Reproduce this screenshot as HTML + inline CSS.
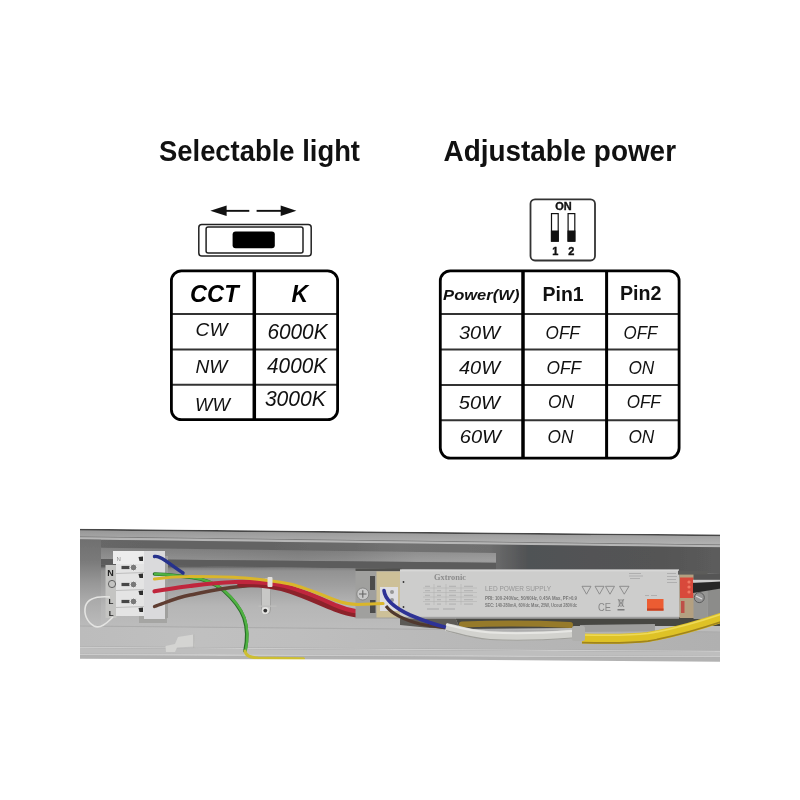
<!DOCTYPE html>
<html><head><meta charset="utf-8">
<style>
html,body{margin:0;padding:0;background:#fff;width:800px;height:800px;overflow:hidden}
svg{display:block;will-change:transform}
text{font-family:"Liberation Sans",sans-serif}
</style></head><body>
<svg width="800" height="800" viewBox="0 0 800 800">
<rect width="800" height="800" fill="#fff"/>
<!-- titles -->
<text x="159" y="161" font-size="28.8" font-weight="bold" fill="#111" textLength="201" lengthAdjust="spacingAndGlyphs">Selectable light</text>
<text x="443.5" y="160.8" font-size="28.6" font-weight="bold" fill="#111" textLength="232.5" lengthAdjust="spacingAndGlyphs">Adjustable power</text>

<!-- selector switch icon -->
<g fill="#111" stroke="none">
<polygon points="210.3,210.8 226.6,205.6 226.6,216.1"/>
<rect x="226" y="209.9" width="23.3" height="1.9"/>
<polygon points="296.4,210.8 280.7,205.6 280.7,216.1"/>
<rect x="256.6" y="209.9" width="24.5" height="1.9"/>
</g>
<rect x="198.8" y="224.6" width="112.4" height="31.4" rx="3" fill="none" stroke="#222" stroke-width="1.5"/>
<rect x="206.1" y="227.1" width="96.9" height="26" rx="2" fill="none" stroke="#222" stroke-width="1.5"/>
<rect x="232.6" y="231.6" width="42.2" height="16.7" rx="3" fill="#000"/>

<!-- DIP switch icon -->
<rect x="530.5" y="199.3" width="64.5" height="61.2" rx="4.5" fill="none" stroke="#333" stroke-width="1.8"/>
<text x="563.4" y="209.7" font-size="10.5" font-weight="bold" text-anchor="middle" fill="#111" stroke="#111" stroke-width="0.35" textLength="16.5" lengthAdjust="spacingAndGlyphs">ON</text>
<rect x="551.5" y="213.6" width="6.7" height="27.5" fill="#fff" stroke="#111" stroke-width="1.2"/>
<rect x="550.9" y="230.5" width="7.9" height="11.2" fill="#111"/>
<rect x="568.1" y="213.6" width="6.7" height="27.5" fill="#fff" stroke="#111" stroke-width="1.2"/>
<rect x="567.5" y="230.5" width="7.9" height="11.2" fill="#111"/>
<text x="555.3" y="255.2" font-size="11" font-weight="bold" text-anchor="middle" fill="#111" stroke="#111" stroke-width="0.4">1</text>
<text x="571.4" y="255.2" font-size="11" font-weight="bold" text-anchor="middle" fill="#111" stroke="#111" stroke-width="0.4">2</text>

<!-- left table -->
<g stroke="#333" stroke-width="2">
<line x1="171" y1="313.9" x2="338" y2="313.9"/>
<line x1="171" y1="349.4" x2="338" y2="349.4"/>
<line x1="171" y1="384.8" x2="338" y2="384.8"/>
</g>
<line x1="254.3" y1="271" x2="254.3" y2="419" stroke="#000" stroke-width="3.5"/>
<rect x="171.4" y="270.8" width="166.2" height="148.9" rx="10" fill="none" stroke="#000" stroke-width="2.8"/>
<g fill="#000">
<text x="190" y="301.6" font-size="23" font-weight="bold" font-style="italic" textLength="48.6" lengthAdjust="spacingAndGlyphs">CCT</text>
<text x="291.5" y="301.6" font-size="23" font-weight="bold" font-style="italic">K</text>
</g>
<g fill="#111" font-style="italic">
<text x="195.6" y="335.6" font-size="19" textLength="31.8" lengthAdjust="spacingAndGlyphs">CW</text>
<text x="195.6" y="373" font-size="18.5" textLength="31.8" lengthAdjust="spacingAndGlyphs">NW</text>
<text x="195.1" y="411.4" font-size="18.5" textLength="34.9" lengthAdjust="spacingAndGlyphs">WW</text>
<text x="267.4" y="339" font-size="21.5" textLength="60.2" lengthAdjust="spacingAndGlyphs">6000K</text>
<text x="267.1" y="373" font-size="21.3" textLength="59.9" lengthAdjust="spacingAndGlyphs">4000K</text>
<text x="264.9" y="406.1" font-size="21.5" textLength="61" lengthAdjust="spacingAndGlyphs">3000K</text>
</g>

<!-- right table -->
<g stroke="#333" stroke-width="2">
<line x1="440" y1="314" x2="679" y2="314"/>
<line x1="440" y1="349.4" x2="679" y2="349.4"/>
<line x1="440" y1="385" x2="679" y2="385"/>
<line x1="440" y1="420.3" x2="679" y2="420.3"/>
</g>
<line x1="523" y1="271" x2="523" y2="458" stroke="#000" stroke-width="3.5"/>
<line x1="606.6" y1="271" x2="606.6" y2="458" stroke="#000" stroke-width="3"/>
<rect x="440.3" y="270.9" width="238.8" height="187.2" rx="10" fill="none" stroke="#000" stroke-width="2.8"/>
<g fill="#111">
<text x="443.1" y="299.8" font-size="15.5" font-weight="bold" font-style="italic" textLength="76.3" lengthAdjust="spacingAndGlyphs">Power(W)</text>
<text x="542.5" y="300.6" font-size="21" font-weight="bold" textLength="41.2" lengthAdjust="spacingAndGlyphs">Pin1</text>
<text x="620" y="300.3" font-size="21" font-weight="bold" textLength="41.5" lengthAdjust="spacingAndGlyphs">Pin2</text>
</g>
<g fill="#111" font-style="italic" font-size="18.3">
<text x="459" y="339.4" textLength="41" lengthAdjust="spacingAndGlyphs">30W</text>
<text x="459" y="374" textLength="41" lengthAdjust="spacingAndGlyphs">40W</text>
<text x="458.8" y="408.5" textLength="41.2" lengthAdjust="spacingAndGlyphs">50W</text>
<text x="459.8" y="442.7" textLength="41.2" lengthAdjust="spacingAndGlyphs">60W</text>
<text x="545.6" y="339.4" textLength="34.2" lengthAdjust="spacingAndGlyphs">OFF</text>
<text x="623.5" y="339.4" textLength="33.8" lengthAdjust="spacingAndGlyphs">OFF</text>
<text x="546.6" y="374" textLength="34.6" lengthAdjust="spacingAndGlyphs">OFF</text>
<text x="628.4" y="374" textLength="25.9" lengthAdjust="spacingAndGlyphs">ON</text>
<text x="548" y="408.4" textLength="26.2" lengthAdjust="spacingAndGlyphs">ON</text>
<text x="626.7" y="408.4" textLength="34" lengthAdjust="spacingAndGlyphs">OFF</text>
<text x="547.6" y="443" textLength="25.9" lengthAdjust="spacingAndGlyphs">ON</text>
<text x="628.4" y="443" textLength="25.9" lengthAdjust="spacingAndGlyphs">ON</text>
</g>

<!-- PHOTO -->
<g id="photo">
<defs><linearGradient id="rimg" x1="0" y1="0" x2="0" y2="1"><stop offset="0" stop-color="rgb(152,152,152)"/><stop offset="0.5" stop-color="rgb(165,165,165)"/><stop offset="1" stop-color="rgb(178,178,178)"/></linearGradient><linearGradient id="dbg" gradientUnits="userSpaceOnUse" x1="80" y1="0" x2="720" y2="0"><stop offset="0" stop-color="rgb(104,104,104)"/><stop offset="0.1" stop-color="rgb(100,100,100)"/><stop offset="0.3" stop-color="rgb(100,100,100)"/><stop offset="0.42" stop-color="rgb(106,106,106)"/><stop offset="0.5" stop-color="rgb(114,114,114)"/><stop offset="0.64" stop-color="rgb(110,110,110)"/><stop offset="0.7" stop-color="rgb(80,82,84)"/><stop offset="0.9" stop-color="rgb(84,84,84)"/><stop offset="1" stop-color="rgb(92,92,92)"/></linearGradient><linearGradient id="ldg" gradientUnits="userSpaceOnUse" x1="101" y1="0" x2="496" y2="0"><stop offset="0" stop-color="rgb(148,148,148)"/><stop offset="0.3" stop-color="rgb(142,142,142)"/><stop offset="0.5" stop-color="rgb(136,136,136)"/><stop offset="0.62" stop-color="rgb(140,140,140)"/><stop offset="0.8" stop-color="rgb(155,155,155)"/><stop offset="1" stop-color="rgb(158,158,158)"/></linearGradient><linearGradient id="ldv" x1="0" y1="0" x2="0" y2="1"><stop offset="0" stop-color="rgba(0,0,0,0.12)"/><stop offset="0.85" stop-color="rgba(0,0,0,0)"/><stop offset="1" stop-color="rgba(255,255,255,0.08)"/></linearGradient><linearGradient id="chg" gradientUnits="userSpaceOnUse" x1="0" y1="566" x2="0" y2="628"><stop offset="0" stop-color="rgb(88,88,88)"/><stop offset="0.04" stop-color="rgb(130,130,130)"/><stop offset="0.08" stop-color="rgb(146,146,146)"/><stop offset="0.32" stop-color="rgb(160,160,160)"/><stop offset="0.65" stop-color="rgb(182,182,182)"/><stop offset="1" stop-color="rgb(188,188,188)"/></linearGradient><linearGradient id="leftg" gradientUnits="userSpaceOnUse" x1="0" y1="540" x2="0" y2="600"><stop offset="0" stop-color="rgb(112,112,112)"/><stop offset="0.35" stop-color="rgb(122,122,122)"/><stop offset="0.7" stop-color="rgb(150,150,150)"/><stop offset="1" stop-color="rgb(170,170,170)"/></linearGradient><linearGradient id="leftg2" gradientUnits="userSpaceOnUse" x1="0" y1="600" x2="0" y2="628"><stop offset="0" stop-color="rgb(170,170,170)"/><stop offset="1" stop-color="rgb(188,188,188)"/></linearGradient><linearGradient id="llg" gradientUnits="userSpaceOnUse" x1="80" y1="0" x2="720" y2="0"><stop offset="0" stop-color="rgb(188,188,188)"/><stop offset="0.19" stop-color="rgb(192,192,192)"/><stop offset="0.34" stop-color="rgb(190,190,190)"/><stop offset="0.69" stop-color="rgb(182,182,182)"/><stop offset="1" stop-color="rgb(176,176,176)"/></linearGradient></defs>
<clipPath id="pc"><polygon points="80,528.8 720,534.6 720,661.8 460,659.8 80,658.7"/></clipPath>
<filter id="soft" x="-2%" y="-10%" width="104%" height="120%"><feGaussianBlur stdDeviation="0.75"/></filter>
<g clip-path="url(#pc)">
<g filter="url(#soft)">
<polygon points="80.0,528.8 720.0,534.6 720.0,662.5 80.0,658.7" fill="rgb(150,150,150)" />
<polygon points="80.0,528.8 720.0,534.6 720.0,536.3 80.0,530.5" fill="rgb(70,70,70)" />
<polygon points="80.0,530.5 720.0,536.3 720.0,544.5 80.0,536.5" fill="url(#rimg)" />
<polygon points="80.0,536.5 720.0,544.5 720.0,545.3 80.0,537.3" fill="rgb(120,120,120)" />
<polygon points="80.0,537.3 720.0,545.3 720.0,547.3 80.0,539.5" fill="rgb(182,182,182)" />
<polygon points="80.0,539.5 720.0,547.3 720.0,573.9 80.0,564.3" fill="url(#dbg)" />
<polygon points="101.0,547.8 496.0,553.0 496.0,562.7 101.0,559.0" fill="url(#ldg)" />
<polygon points="101.0,547.8 496.0,553.0 496.0,562.7 101.0,559.0" fill="url(#ldv)" />
<polygon points="101.0,559.0 496.0,562.7 496.0,570.5 101.0,564.6" fill="rgb(92,92,92)" />
<polygon points="101.0,564.6 720.0,573.9 720.0,632.0 101.0,626.2" fill="url(#chg)" />
<polygon points="80.0,539.5 101.0,539.8 101.0,600.0 80.0,600.0" fill="url(#leftg)" />
<polygon points="80.0,600.0 101.0,600.0 101.0,626.2 80.0,626.0" fill="url(#leftg2)" />
<polygon points="80.0,626.0 720.0,632.0 720.0,651.0 80.0,647.0" fill="url(#llg)" />
<polygon points="80.0,625.4 720.0,631.4 720.0,632.6 80.0,626.6" fill="rgb(172,172,172)" />
<polygon points="80.0,646.2 720.0,650.2 720.0,651.0 80.0,647.0" fill="rgb(170,170,170)" />
<polygon points="80.0,646.8 720.0,650.8 720.0,652.0 80.0,648.0" fill="rgb(204,204,204)" />
<polygon points="80.0,648.0 720.0,652.0 720.0,656.0 80.0,653.5" fill="rgb(190,190,190)" />
<polygon points="80.0,653.5 720.0,656.0 720.0,657.6 80.0,655.5" fill="rgb(203,203,203)" />
<polygon points="80.0,655.5 720.0,657.6 720.0,662.5 80.0,658.7" fill="rgb(178,178,178)" />
<polygon points="165.5,646 175,644 178,637 193.5,634.5 194.5,646.5 177,647.5 175,652 166,652" fill="rgb(212,212,210)"/>
<line x1="193.8" y1="634.5" x2="193.8" y2="648" stroke="rgb(180,180,178)" stroke-width="1"/>
<rect x="139" y="612" width="28" height="11" fill="rgb(165,165,163)"/>
<rect x="160" y="556" width="8" height="62" fill="rgb(160,160,158)"/>
<rect x="105.5" y="565" width="11" height="53" fill="rgb(196,196,194)"/>
<path d="M113,552 L125,551 L129,553 L143,551 L146,551 L146,565 L144,565 L144,616 L116,616 L116,564 L113,564 Z" fill="rgb(228,228,228)"/>
<rect x="144" y="551" width="21" height="68" fill="rgb(218,218,220)"/>
<rect x="113" y="551" width="31" height="13" fill="rgb(236,236,236)"/>
<rect x="121.5" y="565.9" width="8" height="3.2" fill="rgb(70,70,70)"/>
<circle cx="133.5" cy="567.5" r="3.4" fill="rgb(120,120,120)" stroke="rgb(240,240,240)" stroke-width="1"/>
<line x1="116" y1="573.5" x2="144" y2="572.5" stroke="rgb(180,180,180)" stroke-width="0.8"/>
<rect x="121.5" y="582.9" width="8" height="3.2" fill="rgb(70,70,70)"/>
<circle cx="133.5" cy="584.5" r="3.4" fill="rgb(120,120,120)" stroke="rgb(240,240,240)" stroke-width="1"/>
<line x1="116" y1="590.5" x2="144" y2="589.5" stroke="rgb(180,180,180)" stroke-width="0.8"/>
<rect x="121.5" y="599.9" width="8" height="3.2" fill="rgb(70,70,70)"/>
<circle cx="133.5" cy="601.5" r="3.4" fill="rgb(120,120,120)" stroke="rgb(240,240,240)" stroke-width="1"/>
<line x1="116" y1="607.5" x2="144" y2="606.5" stroke="rgb(180,180,180)" stroke-width="0.8"/>
<polygon points="138.5,557 143,556.5 143,561 139.5,561" fill="rgb(45,45,45)"/>
<polygon points="138.5,574 143,573.5 143,578 139.5,578" fill="rgb(45,45,45)"/>
<polygon points="138.5,591 143,590.5 143,595 139.5,595" fill="rgb(45,45,45)"/>
<polygon points="138.5,608 143,607.5 143,612 139.5,612" fill="rgb(45,45,45)"/>
<text x="107.3" y="575.5" font-size="9" font-weight="bold" fill="#222">N</text>
<circle cx="112" cy="584" r="3.6" fill="none" stroke="#555" stroke-width="0.9"/>
<text x="108.5" y="604" font-size="8" font-weight="bold" fill="#222">L</text>
<text x="108.8" y="616" font-size="8" font-weight="bold" fill="#222">L</text>
<text x="116.5" y="561" font-size="6" fill="#888">N</text>
<path d="M110,597 C98,596 88,598 85.5,606 C83.5,614 87,622 94,626 C100,629 106,624 113,617" fill="none" stroke="rgb(228,228,226)" stroke-width="1.6"/>
<path d="M154.5,574 C165,574 178,576 192,577.5 C204,579 214,583 223,590 C232,598 240,607 244,618 C248,630 247,642 245,651" fill="none" stroke="rgb(40,110,40)" stroke-width="3.6" stroke-linecap="round"/>
<path d="M154.5,574 C165,574 178,576 192,577.5 C204,579 214,583 223,590 C232,598 240,607 244,618 C248,630 247,642 245,651" fill="none" stroke="rgb(80,178,66)" stroke-width="2.4" stroke-linecap="round" transform="translate(0.6,0)"/>
<path d="M245,651 C246,656 250,657.5 258,658 L303.5,658.8" fill="none" stroke="rgb(205,190,50)" stroke-width="3" stroke-linecap="round"/>
<path d="M154.5,556.5 C160,555 168,563 183,573" fill="none" stroke="rgb(38,48,140)" stroke-width="3.4" stroke-linecap="round"/>
<rect x="261.5" y="578" width="9" height="36" rx="4" fill="rgb(200,200,198)" stroke="rgb(155,155,153)" stroke-width="0.8"/>
<rect x="258.5" y="605.5" width="18" height="1.3" fill="rgb(190,190,188)"/>
<circle cx="265.3" cy="610.6" r="3.6" fill="rgb(228,228,226)"/>
<circle cx="265.3" cy="610.6" r="1.9" fill="rgb(50,50,50)"/>
<path d="M154.5,606.5 C165,603 175,598 190,595 C205,592 220,588.5 240,586.5 C255,585 265,585 275,586" fill="none" stroke="rgb(95,62,50)" stroke-width="3.4" stroke-linecap="round"/>
<path d="M240,584.5 C260,583.5 275,586 290,591 C305,596 320,603 335,609 C343,612 350,614 358,615" fill="none" stroke="rgb(140,34,44)" stroke-width="5.5" stroke-linecap="round"/>
<path d="M154.5,591.3 C165,589.5 175,588 190,586 C205,584 215,582.5 235,582 C255,581.5 270,582.5 285,586 C300,590 320,598 335,605 C343,608.5 350,610.5 358,611.5" fill="none" stroke="rgb(192,40,60)" stroke-width="4.2" stroke-linecap="round"/>
<rect x="355.5" y="570" width="46" height="48.5" fill="rgb(160,160,158)"/>
<rect x="355.5" y="568.5" width="46" height="2.5" fill="rgb(80,80,78)"/>
<rect x="370" y="576" width="5" height="14" fill="rgb(75,75,75)"/>
<rect x="370" y="600" width="5.5" height="13" fill="rgb(75,75,75)"/>
<circle cx="362.8" cy="594" r="6" fill="rgb(200,200,200)" stroke="rgb(125,125,125)" stroke-width="0.8"/>
<path d="M359,594 L366.5,594 M362.8,590.2 L362.8,597.8" stroke="rgb(100,100,100)" stroke-width="1.1"/>
<rect x="376.5" y="571.5" width="24" height="46" fill="rgb(205,192,152)"/>
<rect x="380" y="587" width="18" height="24" fill="rgb(222,222,226)"/>
<circle cx="392" cy="592" r="2" fill="rgb(150,150,150)"/><circle cx="392" cy="600" r="2" fill="rgb(150,150,150)"/>
<path d="M154.5,579 C165,577.5 175,576.5 190,576.5 C205,576.5 225,576.5 245,578 C262,579.5 275,581 290,584 C305,587.5 320,594 335,600 C343,603 350,604.5 358,604.5 L383,603.5" fill="none" stroke="rgb(218,182,42)" stroke-width="3.2" stroke-linecap="round"/>
<rect x="267.5" y="577" width="5" height="10" rx="1" fill="rgb(228,225,222)"/>
<polygon points="455,617 722,617 722,626 640,626 600,626 570,628 460,629" fill="rgb(70,70,66)"/>
<polygon points="400,617 455,617 460,629 430,628 400,625" fill="rgb(92,90,86)"/>
<path d="M462,624.5 C500,623 540,623.5 570,625" stroke="rgb(150,122,42)" stroke-width="6" fill="none" stroke-linecap="round"/>
<rect x="400" y="569.6" width="279" height="48.8" fill="rgb(205,205,204)"/>
<rect x="400" y="569.6" width="279" height="1.8" fill="rgb(216,216,215)"/>
<rect x="400" y="616.8" width="279" height="1.6" fill="rgb(160,160,160)"/>
<circle cx="403.5" cy="582" r="0.9" fill="#333"/><circle cx="403.5" cy="607" r="0.9" fill="#333"/>
<text x="434" y="580.3" style="font-family:'Liberation Serif'" font-size="8.5" font-weight="bold" fill="rgb(140,140,140)" textLength="32" lengthAdjust="spacingAndGlyphs">Gxtronic</text>
<g stroke="rgb(175,175,175)" stroke-width="0.5" fill="none"><line x1="423" y1="588" x2="477" y2="588"/><line x1="423" y1="592.5" x2="477" y2="592.5"/><line x1="423" y1="597" x2="477" y2="597"/><line x1="423" y1="601.5" x2="477" y2="601.5"/><line x1="434" y1="584" x2="434" y2="605"/><line x1="446" y1="584" x2="446" y2="605"/><line x1="461" y1="584" x2="461" y2="605"/></g>
<g fill="rgb(172,172,172)">
<rect x="425" y="585.8" width="5" height="0.9"/>
<rect x="437" y="585.8" width="4" height="0.9"/>
<rect x="449" y="585.8" width="7" height="0.9"/>
<rect x="464" y="585.8" width="9" height="0.9"/>
<rect x="425" y="590.3" width="5" height="0.9"/>
<rect x="437" y="590.3" width="4" height="0.9"/>
<rect x="449" y="590.3" width="7" height="0.9"/>
<rect x="464" y="590.3" width="9" height="0.9"/>
<rect x="425" y="594.8" width="5" height="0.9"/>
<rect x="437" y="594.8" width="4" height="0.9"/>
<rect x="449" y="594.8" width="7" height="0.9"/>
<rect x="464" y="594.8" width="9" height="0.9"/>
<rect x="425" y="599.3" width="5" height="0.9"/>
<rect x="437" y="599.3" width="4" height="0.9"/>
<rect x="449" y="599.3" width="7" height="0.9"/>
<rect x="464" y="599.3" width="9" height="0.9"/>
<rect x="425" y="603.6" width="5" height="0.9"/>
<rect x="437" y="603.6" width="4" height="0.9"/>
<rect x="449" y="603.6" width="7" height="0.9"/>
<rect x="464" y="603.6" width="9" height="0.9"/>
</g>
<rect x="427" y="608.5" width="12" height="1" fill="rgb(170,170,170)"/><rect x="443" y="608.5" width="12" height="1" fill="rgb(170,170,170)"/>
<text x="485" y="590.6" font-size="7.6" fill="rgb(150,150,150)" textLength="66" lengthAdjust="spacingAndGlyphs">LED POWER SUPPLY</text>
<text x="485" y="599.5" font-size="5" font-weight="bold" fill="rgb(120,120,120)" textLength="92" lengthAdjust="spacingAndGlyphs">PRI: 100-240Vac, 50/60Hz, 0.45A Max, PF&gt;0.9</text>
<text x="485" y="606.5" font-size="5" font-weight="bold" fill="rgb(120,120,120)" textLength="92" lengthAdjust="spacingAndGlyphs">SEC: 140-280mA, 60Vdc Max, 25W, Ucout 280Vdc</text>
<polygon points="582,586.3 591,586.3 586.5,594.2" fill="none" stroke="rgb(135,135,135)" stroke-width="0.9"/>
<polygon points="595,586.3 604,586.3 599.5,594.2" fill="none" stroke="rgb(135,135,135)" stroke-width="0.9"/>
<polygon points="605.5,586.3 614.5,586.3 610.0,594.2" fill="none" stroke="rgb(135,135,135)" stroke-width="0.9"/>
<polygon points="619.5,586.3 629,586.3 624.25,594.2" fill="none" stroke="rgb(135,135,135)" stroke-width="0.9"/>
<text x="598" y="611" font-size="10.5" fill="rgb(135,135,135)" textLength="13" lengthAdjust="spacingAndGlyphs">CE</text>
<path d="M618,599 L624,607 M624,599 L618,607 M619,600 L623,600 L622.5,606 L619.5,606 Z" stroke="rgb(125,125,125)" stroke-width="0.8" fill="none"/>
<rect x="617.5" y="609" width="7" height="1.5" fill="rgb(125,125,125)"/>
<g fill="rgb(175,175,175)"><rect x="629" y="573" width="12" height="1"/><rect x="629" y="575.5" width="14" height="1"/><rect x="630" y="578" width="10" height="1"/><rect x="667" y="573" width="9" height="1"/><rect x="667" y="576" width="10" height="1"/><rect x="667" y="579" width="9" height="1"/><rect x="667" y="582" width="10" height="1"/><rect x="645" y="595" width="4" height="1"/><rect x="651" y="595" width="6" height="1"/></g>
<rect x="647" y="599" width="16.5" height="11.6" fill="rgb(236,92,48)"/>
<rect x="647" y="608.5" width="16.5" height="2.1" fill="rgb(195,65,35)"/>
<rect x="679.5" y="571" width="14.5" height="47" fill="rgb(180,160,128)"/>
<rect x="680" y="577.5" width="13.5" height="20.5" fill="rgb(216,74,58)"/>
<circle cx="689" cy="582" r="1.6" fill="rgb(240,120,100)"/><circle cx="689" cy="587" r="1.6" fill="rgb(240,120,100)"/><circle cx="689" cy="592" r="1.6" fill="rgb(240,120,100)"/>
<rect x="681" y="601" width="3.5" height="12" fill="rgb(190,80,70)"/>
<rect x="693.5" y="574" width="28" height="8" fill="rgb(84,84,84)"/>
<rect x="693.5" y="590" width="14" height="29" fill="rgb(150,150,148)"/>
<rect x="707.5" y="586" width="14" height="33" fill="rgb(140,140,138)"/>
<polygon points="678,570.7 707.5,570.7 707.5,574.6 678,574.6" fill="rgb(92,92,90)"/>
<rect x="693" y="579.8" width="28" height="2.7" fill="rgb(205,205,205)"/>
<polygon points="693,583 721,581.5 721,588.5 693,593" fill="rgb(40,40,40)"/>
<circle cx="699.3" cy="597.6" r="5" fill="rgb(150,150,150)" stroke="rgb(90,90,90)" stroke-width="1"/>
<path d="M696,596 L702,599" stroke="rgb(220,220,220)" stroke-width="1.2"/>
<path d="M386,606 C392,614 405,620 420,624 C430,626 440,627 447,628" stroke="rgb(80,55,45)" stroke-width="3" fill="none"/>
<path d="M384,590.5 C385,600 395,608 410,615 C422,620 435,625 447,627.5" fill="none" stroke="rgb(45,50,150)" stroke-width="3.6" stroke-linecap="round"/>
<path d="M446,627 C458,630 470,634 490,635.5 C515,637 545,636 572,634" stroke="rgb(210,210,206)" stroke-width="8.5" fill="none"/>
<path d="M446,624.5 C458,627.5 470,631 490,632.5 C515,634 545,633 572,631" stroke="rgb(230,230,227)" stroke-width="2" fill="none"/>
<path d="M446,630.5 C458,633.5 470,638 490,639.5 C515,641 545,640 572,638" stroke="rgb(160,160,156)" stroke-width="1.2" fill="none"/>
<path d="M580,628.5 C600,628 625,628 655,627.5" stroke="rgb(158,158,156)" stroke-width="7" fill="none"/>
<path d="M582,638.5 C605,639 628,639.5 648,637 C672,633 697,626 722,617.5" stroke="rgb(222,194,40)" stroke-width="10" fill="none"/>
<path d="M582,642.6 C605,643.1 628,643.6 648,641.1 C672,637.1 697,630.1 722,621.6" stroke="rgb(160,132,30)" stroke-width="1.6" fill="none"/>
<path d="M582,635 C605,635.5 628,636 648,633.5 C672,629.5 697,622.5 722,614" stroke="rgb(238,218,86)" stroke-width="1.6" fill="none"/>
<rect x="572" y="626" width="13" height="15" rx="2" fill="rgb(175,175,173)"/>
</g>
</g>
</g>
</svg>
</body></html>
